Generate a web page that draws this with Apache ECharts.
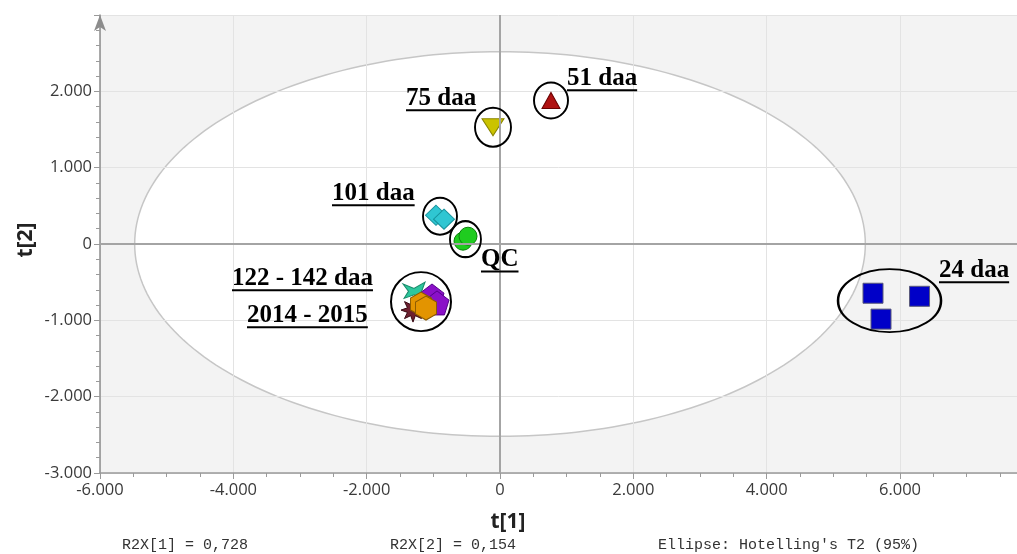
<!DOCTYPE html>
<html>
<head>
<meta charset="utf-8">
<script src="https://cdn.jsdelivr.net/npm/echarts@6/dist/echarts.min.js"></script>
<style>
  html, body { margin: 0; padding: 0; background: #ffffff; }
  #chart { width: 1017px; height: 554px; }
</style>
</head>
<body>
<div id="chart"></div>
<script>
// PCA score values [t[1], t[2]] for each sample group
const daa24 = [[5595, -645], [6293, -685], [5715, -984]];
const daa51 = [[765, 1881]];
const daa75 = [[-105, 1529]];
const daa101 = [[-960, 377], [-840, 325]];
const qcSamples = [[-555, 37], [-480, 102]];
const late2014Star = [[-1305, -866]];
const late2014Bow = [[-1290, -618]];
const late2015Penta = [[-1020, -681], [-945, -772]];
const late2015Hexa = [[-1185, -787], [-1110, -839]];

// Hotelling's T2 (95%) ellipse semi-axes in score units
const ellipseAxes = [5480, 2520];

// Axis tick values
const xTicks = [-6000, -4000, -2000, 0, 2000, 4000, 6000];
const yTicks = [-3000, -2000, -1000, 0, 1000, 2000];

// Summary statistics printed under the plot
const footerTexts = ['R2X[1] = 0,728', 'R2X[2] = 0,154', "Ellipse: Hotelling's T2 (95%)"];

// Group annotation texts
const annotationTexts = ['51 daa', '75 daa', '101 daa', 'QC', '122 - 142 daa', '2014 - 2015', '24 daa'];

// Layout of annotations: underline-start anchor (score units)
const annotationAnchors = [[1005, 2013], [-1410, 1751], [-2520, 508], [-285, -359],
                           [-4020, -605], [-3795, -1089], [6585, -501]];
// Group rings: centre (score units) and size in pixels
const ringCenters = [[765, 1881], [-105, 1529], [-900, 364], [-518, 63], [-1185, -755], [5843, -742]];
const ringSizes = [[34, 36], [36, 39], [34, 37], [31, 36], [60, 59], [103, 63]];

const chart = echarts.init(document.getElementById('chart'), null, { renderer: 'canvas' });

const thousands = v => (v === 0 ? '0' : (v / 1000).toFixed(3));

const measureCtx = document.createElement('canvas').getContext('2d');
const annoFont = 'bold 25px "Liberation Serif", "Times New Roman", serif';
measureCtx.font = annoFont;

const starPath = 'path://M1,0 L1.191,0.538 L1.707,0.293 L1.462,0.809 L2,1 L1.462,1.191 L1.707,1.707 L1.191,1.462 L1,2 L0.809,1.462 L0.293,1.707 L0.538,1.191 L0,1 L0.538,0.809 L0.293,0.293 L0.809,0.538 Z';
const bowPath = 'path://M0,0.2 L1,0.7 L2,0 L1.7,1 L2,2 L1,1.4 L0.1,1.8 L0.5,1 Z';
const pentaPath = 'path://M1,0 L1.951,0.691 L1.588,1.809 L0.412,1.809 L0.049,0.691 Z';
const hexaPath = 'path://M0.866,0 L1.732,0.5 L1.732,1.5 L0.866,2 L0,1.5 L0,0.5 Z';
const downTriPath = 'path://M0,0 L2,0 L1,1.6 Z';

function scatter(name, data, symbol, size, fill, border, z) {
  return {
    name, type: 'scatter', data, symbol, symbolSize: size, z: z || 4,
    itemStyle: { color: fill, borderColor: border, borderWidth: 1, opacity: 1 },
    emphasis: { disabled: true }
  };
}

const labelFont = '"Open Sans", "Noto Sans", sans-serif';

const option = {
  animation: false,
  grid: { left: 100, top: 15, right: 0, bottom: 81, containLabel: false },
  xAxis: {
    type: 'value', min: -6000, max: 7755, interval: 2000, z: 2,
    axisLine: { onZero: false, lineStyle: { color: '#9a9a9a', width: 1.5 } },
    axisTick: { show: true, length: 6, lineStyle: { color: '#9a9a9a' } },
    minorTick: { show: true, splitNumber: 4, length: 4, lineStyle: { color: '#9a9a9a' } },
    splitLine: { show: true, lineStyle: { color: '#e3e3e3', width: 1 } },
    axisLabel: {
      color: '#3a3a3a', fontSize: 16.5, fontFamily: labelFont, margin: 9,
      showMaxLabel: false, formatter: v => (xTicks.includes(v) ? thousands(v) : '')
    }
  },
  yAxis: {
    type: 'value', min: -3000, max: 3000, interval: 1000, z: 2,
    axisLine: { onZero: false, symbol: ['none', 'arrow'], symbolSize: [9, 16], symbolOffset: [0, 0],
                lineStyle: { color: '#8c8c8c', width: 1.5 } },
    axisTick: { show: true, length: 6, lineStyle: { color: '#9a9a9a' } },
    minorTick: { show: true, splitNumber: 5, length: 4, lineStyle: { color: '#9a9a9a' } },
    splitLine: { show: true, lineStyle: { color: '#e3e3e3', width: 1 } },
    axisLabel: {
      color: '#3a3a3a', fontSize: 16.5, fontFamily: labelFont, margin: 8,
      showMaxLabel: false, formatter: v => (yTicks.includes(v) ? thousands(v) : '')
    }
  },
  graphic: [
    { type: 'text', x: 508, y: 522, z: 10,
      style: { text: 't[1]', font: 'bold 21px "Noto Sans", sans-serif', fill: '#222', align: 'center', verticalAlign: 'middle' } },
    { type: 'text', x: 26, y: 240, rotation: Math.PI / 2, z: 10,
      style: { text: 't[2]', font: 'bold 21px "Noto Sans", sans-serif', fill: '#222', align: 'center', verticalAlign: 'middle' } },
    { type: 'text', left: 122, top: 538, style: { text: footerTexts[0], font: '15px "Liberation Mono", monospace', fill: '#333' } },
    { type: 'text', left: 390, top: 538, style: { text: footerTexts[1], font: '15px "Liberation Mono", monospace', fill: '#333' } },
    { type: 'text', left: 658, top: 538, style: { text: footerTexts[2], font: '15px "Liberation Mono", monospace', fill: '#333' } }
  ],
  series: [
    // Plot background with the T2 ellipse
    {
      type: 'custom', z: 1, silent: true, data: [[0, 0]],
      renderItem: (params, api) => {
        const cs = params.coordSys;
        const pts = [];
        for (let i = 0; i < 240; i++) {
          const t = (i / 240) * Math.PI * 2;
          pts.push(api.coord([ellipseAxes[0] * Math.cos(t), ellipseAxes[1] * Math.sin(t)]));
        }
        return {
          type: 'group',
          children: [
            { type: 'rect', shape: { x: cs.x, y: cs.y, width: cs.width, height: cs.height },
              style: { fill: '#f3f3f3' } },
            { type: 'polygon', shape: { points: pts },
              style: { fill: '#ffffff', stroke: '#c6c6c6', lineWidth: 1.5 } }
          ]
        };
      }
    },
    // Zero reference lines
    {
      type: 'scatter', data: [], z: 3, silent: true,
      markLine: {
        silent: true, symbol: 'none', label: { show: false }, animation: false,
        lineStyle: { color: '#a4a4a4', width: 2, type: 'solid' },
        emphasis: { disabled: true },
        data: [{ xAxis: 0 }, { yAxis: 0 }]
      }
    },
    scatter('2014', late2014Star, starPath, 24, '#6e2130', '#3a0a14'),
    scatter('2014b', late2014Bow, bowPath, [22, 18], '#2dc79d', '#178a6a'),
    scatter('2015', late2015Penta, pentaPath, [24, 24], '#8a10c8', '#55008a'),
    scatter('2015b', late2015Hexa, hexaPath, [21, 24], '#e39400', '#8a5a00'),
    scatter('24 daa', daa24, 'rect', 20, '#0000c8', '#5a5a7a'),
    scatter('51 daa', daa51, 'triangle', [18, 16], '#b01212', '#6a0000'),
    scatter('75 daa', daa75, downTriPath, [22, 17], '#cbc300', '#8a8500'),
    scatter('101 daa', daa101, 'diamond', [21, 20], '#2fc6d2', '#16939d'),
    scatter('QC', qcSamples, 'circle', 18, '#1fcc1f', '#0b820b'),
    // Group rings
    {
      type: 'scatter', z: 5, silent: true, symbol: 'circle',
      data: ringCenters,
      symbolSize: (v, p) => ringSizes[p.dataIndex],
      itemStyle: { color: 'rgba(0,0,0,0)', borderColor: '#000000', borderWidth: 2, opacity: 1 },
      emphasis: { disabled: true }
    },
    // Underlined group annotations
    {
      type: 'custom', z: 6, silent: true, data: annotationAnchors,
      renderItem: (params, api) => {
        const p = api.coord([api.value(0), api.value(1)]);
        const text = annotationTexts[params.dataIndex];
        const w = measureCtx.measureText(text).width;
        return {
          type: 'group',
          children: [
            { type: 'text', style: { text, x: p[0], y: p[1] - 12, font: annoFont, fill: '#000',
                                     align: 'left', verticalAlign: 'middle' } },
            { type: 'line', shape: { x1: p[0], y1: p[1], x2: p[0] + w, y2: p[1] },
              style: { stroke: '#000', lineWidth: 2 } }
          ]
        };
      }
    }
  ]
};

chart.setOption(option);
</script>
</body>
</html>
